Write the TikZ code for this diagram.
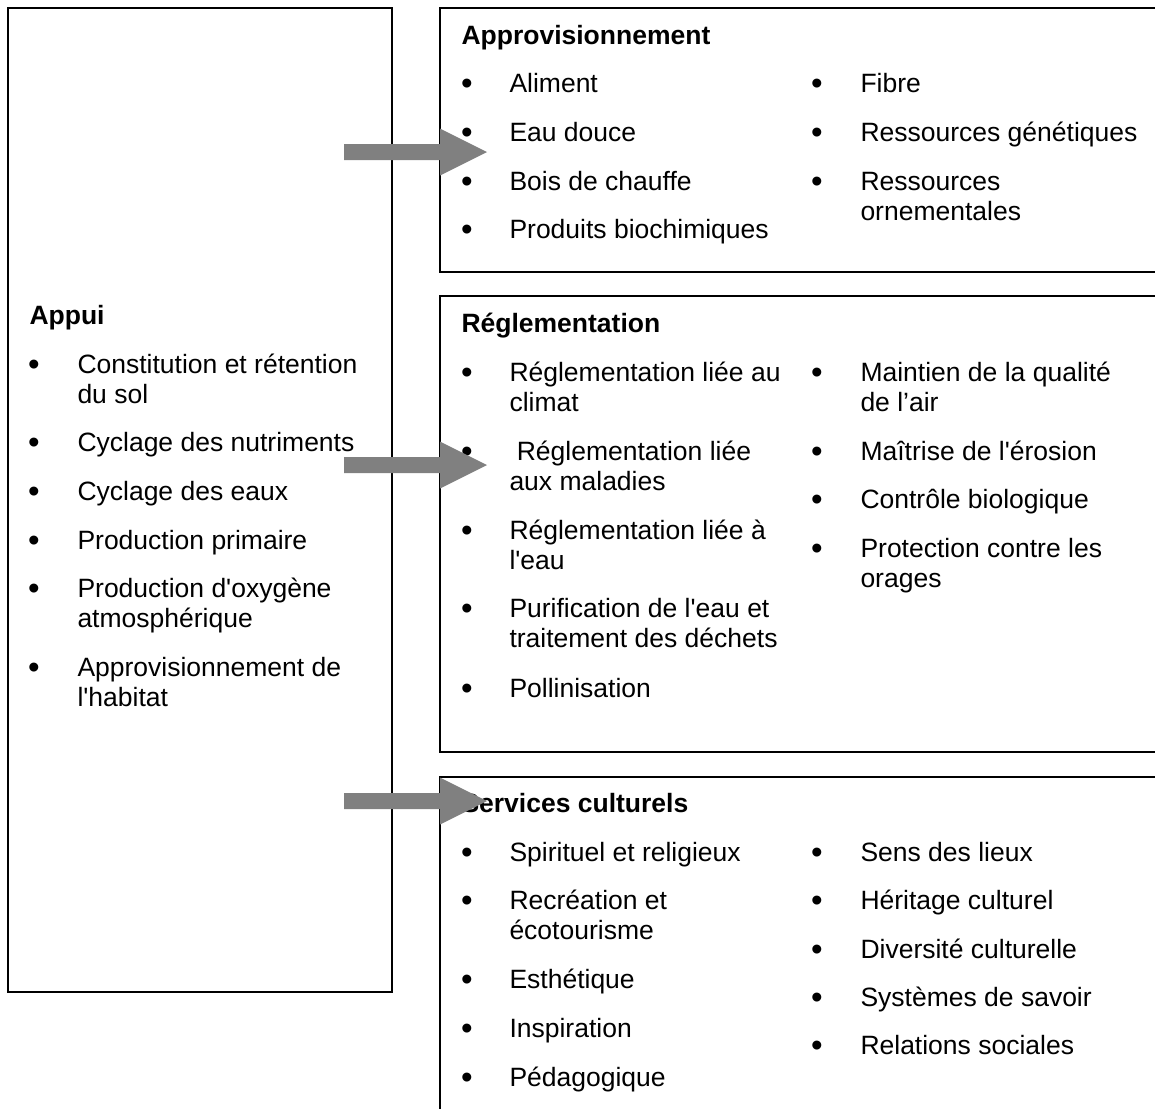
\documentclass[tikz,border=0pt]{standalone}
\usepackage{fontspec}
\setmainfont{Liberation Sans}[Ligatures=TeXOff]
\definecolor{arrowgray}{RGB}{128,128,128}
\newcommand\itemlines[1]{\begin{tabular}[t]{@{}l@{}}#1\end{tabular}}
\begin{document}
\begin{tikzpicture}[x=0.4pt,y=-0.4pt,
    every node/.append style={font=\fontsize{10.6}{12}\selectfont},
    box/.style={line width=0.8pt},
    head/.style={anchor=base west,inner sep=0pt,font=\fontsize{10.6}{12}\selectfont\bfseries},
    itm/.style={anchor=base west,inner sep=0pt},
    bul/.style={anchor=base,inner sep=0pt,yshift=-1pt,font=\fontsize{13.2}{12}\selectfont}]
    \useasboundingbox (0,0) rectangle (1155,1109);
    % boxes
    \draw[box] (8,8) rectangle (392,992);
    \draw[box] (1155,8) -- (440,8) -- (440,272) -- (1155,272);
    \draw[box] (1155,296) -- (440,296) -- (440,752) -- (1155,752);
    \draw[box] (1155,777) -- (440,777) -- (440,1109);
    % Appui
    \node[head] (appui) at (29,324) {Appui};
    \foreach \y/\t [count=\i] in {373/{Constitution et rétention\\du sol}, 451/Cyclage des nutriments,
        500/Cyclage des eaux, 549/Production primaire, 597/{Production d'oxygène\\atmosphérique},
        676/{Approvisionnement de\\l'habitat}}
    {
        \node[bul] (ab\i) at (34,\y) {•};
        \node[itm] (at\i) at (77,\y) {\itemlines{\t}};
    }
    % Approvisionnement
    \node[head] (appro) at (461,44) {Approvisionnement};
    \foreach \y/\t [count=\i] in {92/Aliment, 141/Eau douce, 190/Bois de chauffe, 238/Produits biochimiques}
    {
        \node[bul] (pb\i) at (467,\y) {•};
        \node[itm] (pt\i) at (509,\y) {\itemlines{\t}};
    }
    \foreach \y/\t [count=\i] in {92/Fibre, 141/Ressources génétiques, 190/{Ressources\\ornementales}}
    {
        \node[bul] (pc\i) at (817,\y) {•};
        \node[itm] (pu\i) at (860,\y) {\itemlines{\t}};
    }
    % Reglementation
    \node[head] (regl) at (461,332) {Réglementation};
    \foreach \y/\t [count=\i] in {381/{Réglementation liée au\\climat}, 460/{~Réglementation liée\\aux maladies},
        539/{Réglementation liée à\\l'eau}, 617/{Purification de l'eau et\\traitement des déchets}, 697/Pollinisation}
    {
        \node[bul] (rb\i) at (467,\y) {•};
        \node[itm] (rt\i) at (509,\y) {\itemlines{\t}};
    }
    \foreach \y/\t [count=\i] in {381/{Maintien de la qualité\\de l’air}, 460/Maîtrise de l'érosion,
        508/Contrôle biologique, 557/{Protection contre les\\orages}}
    {
        \node[bul] (rc\i) at (817,\y) {•};
        \node[itm] (ru\i) at (860,\y) {\itemlines{\t}};
    }
    % Services culturels
    \node[head] (cult) at (461,812) {Services culturels};
    \foreach \y/\t [count=\i] in {861/Spirituel et religieux, 909/{Recréation et\\écotourisme}, 988/Esthétique,
        1037/Inspiration, 1086/Pédagogique}
    {
        \node[bul] (cb\i) at (467,\y) {•};
        \node[itm] (ct\i) at (509,\y) {\itemlines{\t}};
    }
    \foreach \y/\t [count=\i] in {861/Sens des lieux, 909/Héritage culturel, 958/Diversité culturelle,
        1006/Systèmes de savoir, 1054/Relations sociales}
    {
        \node[bul] (cc\i) at (817,\y) {•};
        \node[itm] (cu\i) at (860,\y) {\itemlines{\t}};
    }
    % arrows
    \foreach \y in {152,465,801}
        \fill[arrowgray] (344,\y-8) -- (440,\y-8) -- (440,\y-23.5) -- (487,\y) -- (440,\y+23.5)
            -- (440,\y+8) -- (344,\y+8) -- cycle;
\end{tikzpicture}
\end{document}
